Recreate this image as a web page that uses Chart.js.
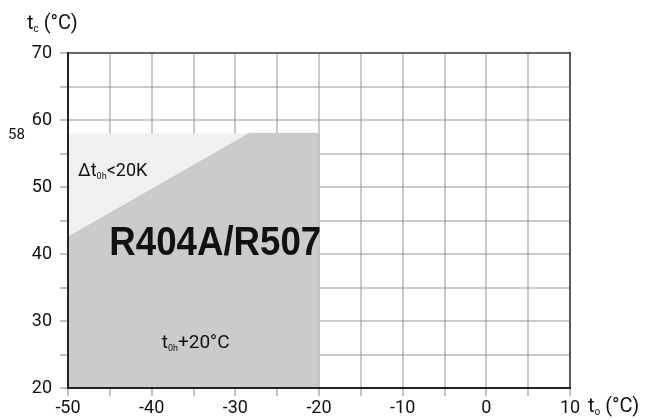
<!DOCTYPE html>
<html>
<head>
<meta charset="utf-8">
<script src="https://cdn.jsdelivr.net/npm/chart.js@4.4.1/dist/chart.umd.min.js"></script>
<style>
  html, body { margin: 0; padding: 0; background: #fff; }
  #wrap { width: 648px; height: 420px; position: relative; }
</style>
</head>
<body>
<div id="wrap"><canvas id="chart"></canvas></div>
<script>
// Operating envelope, evaporating temp t_o (x) vs condensing temp t_c (y)
const envelopeX = [-50, -50, -28.3, -20, -20];
const envelopeY = [20, 42.5, 58, 58, 20];
// Area limited by superheat (Δt0h < 20K)
const superheatX = [-50, -50, -28.3];
const superheatY = [42.5, 58, 58];

const xTicks = [-50, -40, -30, -20, -10, 0, 10];
const yTicks = [20, 30, 40, 50, 60, 70];
const limitTc = 58;

const FONT = "'Liberation Sans Narrow', 'Roboto', 'Liberation Sans', sans-serif";
const BOLD_FONT = "'Liberation Sans Narrow', 'Liberation Sans', 'Roboto', sans-serif";

const toPoints = (xs, ys) => xs.map((x, i) => ({ x, y: ys[i] }));

function subText(ctx, parts, x, y) {
  // parts: [text, size, dy]
  let cx = x;
  for (const [t, size, dy] of parts) {
    ctx.font = `${size}px ${FONT}`;
    ctx.fillText(t, cx, y + dy);
    cx += ctx.measureText(t).width;
  }
}

const decorations = {
  id: 'decorations',
  afterDraw(chart) {
    const { ctx, chartArea: a, scales } = chart;
    const xs = scales.x, ys = scales.y;
    ctx.save();

    // frame
    ctx.lineCap = 'square';
    ctx.strokeStyle = '#666';
    ctx.lineWidth = 2;
    ctx.beginPath(); ctx.moveTo(a.left, a.top); ctx.lineTo(a.right, a.top); ctx.stroke();
    ctx.strokeStyle = '#333';
    ctx.lineWidth = 1.5;
    ctx.beginPath(); ctx.moveTo(a.right, a.top); ctx.lineTo(a.right, a.bottom); ctx.stroke();
    ctx.strokeStyle = '#222';
    ctx.lineWidth = 2;
    ctx.beginPath(); ctx.moveTo(a.left, a.top); ctx.lineTo(a.left, a.bottom); ctx.lineTo(a.right, a.bottom); ctx.stroke();

    ctx.fillStyle = '#111';
    ctx.textBaseline = 'alphabetic';
    ctx.textAlign = 'left';

    // 58 limit label
    ctx.font = `15px ${FONT}`;
    ctx.fillText(String(limitTc), 8, ys.getPixelForValue(limitTc) + 6);

    // axis titles
    subText(ctx, [['t', 20, 0], ['c', 10, 3], [' (°C)', 20, 0]], 27, 29);
    subText(ctx, [['t', 20, 0], ['o', 10, 3], [' (°C)', 20, 0]], a.right + 18, a.bottom + 24);

    // region labels
    subText(ctx, [['Δt', 18, 0], ['0h', 9, 3], ['<20K', 18, 0]],
      xs.getPixelForValue(-48.8), ys.getPixelForValue(51.6));
    subText(ctx, [['t', 19, 0], ['0h', 9, 3], ['+20°C', 19, 0]],
      xs.getPixelForValue(-38.8), ys.getPixelForValue(26.0));

    ctx.font = `bold 40px ${BOLD_FONT}`;
    ctx.textAlign = 'center';
    const label = 'R404A/R507';
    const w = ctx.measureText(label).width;
    const cx = xs.getPixelForValue(-32.4), cy = ys.getPixelForValue(39.8);
    const sx = Math.min(1, 212 / w);
    ctx.translate(cx, cy);
    ctx.scale(sx, 1);
    ctx.fillText(label, 0, 0);
    ctx.restore();
  }
};

const tickFont = { family: FONT, size: 18 };
const gridStyle = { color: 'rgba(150,150,150,0.5)', lineWidth: 2, tickLength: 8, tickColor: 'rgba(150,150,150,0.6)' };

new Chart(document.getElementById('chart'), {
  type: 'line',
  data: {
    datasets: [
      {
        label: 'envelope',
        data: toPoints(envelopeX, envelopeY),
        backgroundColor: '#cbcbcb',
        borderColor: '#c4c4c4',
        borderWidth: 1,
        pointRadius: 0,
        fill: 'shape',
        tension: 0,
        order: 0,
      },
      {
        label: 'superheat',
        data: toPoints(superheatX, superheatY),
        backgroundColor: '#f0f0f0',
        borderColor: '#f0f0f0',
        borderWidth: 0,
        pointRadius: 0,
        fill: 'shape',
        tension: 0,
        order: 1,
      },
    ],
  },
  options: {
    responsive: true,
    maintainAspectRatio: false,
    animation: false,
    layout: { padding: { top: 53, right: 78, bottom: 0, left: 0 } },
    plugins: { legend: { display: false }, tooltip: { enabled: false } },
    scales: {
      x: {
        type: 'linear',
        min: xTicks[0],
        max: xTicks[xTicks.length - 1],
        z: 1,
        border: { display: false },
        grid: gridStyle,
        ticks: {
          stepSize: 5,
          padding: 2,
          maxRotation: 0,
          autoSkip: false,
          color: '#111',
          font: tickFont,
          callback: v => (xTicks.includes(v) ? String(v) : ''),
        },
        afterFit: s => { s.height = 32; },
      },
      y: {
        type: 'linear',
        min: yTicks[0],
        max: yTicks[yTicks.length - 1],
        z: 1,
        border: { display: false },
        grid: gridStyle,
        ticks: {
          stepSize: 5,
          padding: 8,
          autoSkip: false,
          color: '#111',
          font: tickFont,
          callback: v => (yTicks.includes(v) ? String(v) : ''),
        },
        afterFit: s => { s.width = 68; },
      },
    },
  },
  plugins: [decorations],
});
</script>
</body>
</html>
